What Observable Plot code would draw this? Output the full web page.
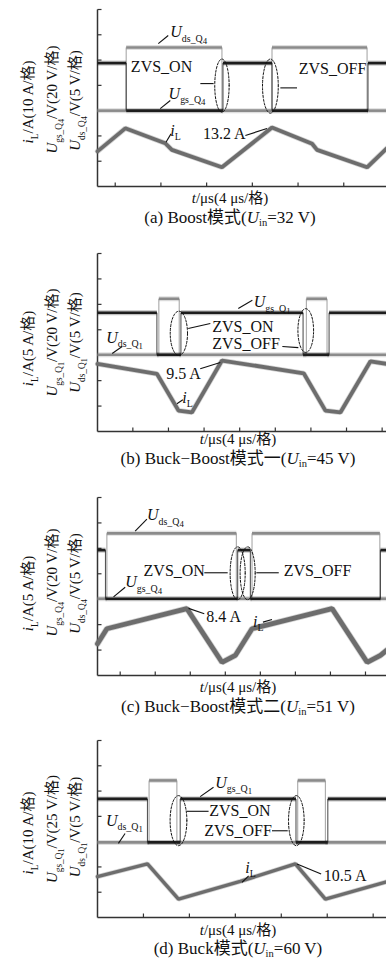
<!DOCTYPE html>
<html><head><meta charset="utf-8">
<script src="https://cdn.jsdelivr.net/npm/d3@7"></script>
<script src="https://cdn.jsdelivr.net/npm/@observablehq/plot@0.6"></script>
<style>
body{margin:0;background:#fff;}
#root{position:relative;width:386px;height:964px;overflow:hidden;font-family:'Liberation Serif','Noto Sans CJK SC',serif;color:#111;}
#root svg{position:absolute;left:0;}
.cap{position:absolute;width:320px;text-align:center;font-size:15px;line-height:15px;height:15px;white-space:nowrap;}
.cap.big{font-size:17px;line-height:17px;height:17px;}
.cap sub{font-size:62%;vertical-align:-0.25em;line-height:0;}
</style>
</head><body><div id="root"></div>
<script>
// ---------- Panel (a) Boost ----------
const aTicks = [4, 8, 12, 16, 20, 24];
const aUdsT = [2.45, 4.96, 13.34, 17.72, 26.04];
const aUdsV = [3.0, 5.5, 3.0, 5.5, 3.0];
const aUgsT = [2.45, 4.96, 13.43, 17.72, 26.12];
const aUgsV = [4.88, 3.0, 4.88, 3.0, 4.88];
const aIlT = [2.45, 4.88, 8.38, 8.96, 13.34, 17.72, 21.23, 21.66, 26.04, 27.74];
const aIlV = [1.39, 2.30, 1.71, 1.45, 0.76, 2.33, 1.69, 1.45, 0.76, 1.50];
const aLabS = ["$U$_{ds_Q}__{4}", "ZVS_ON", "$U$_{gs_Q}__{4}", "ZVS_OFF", "$i$_{L}", "13.2 A"];
const aLabT = [8.82, 5.37, 8.67, 20.06, 8.82, 11.68];
const aLabV = [6.10, 4.72, 3.68, 4.67, 2.21, 2.10];
const aLeaders = [[7.77,5.65,8.64,5.97],[7.94,3.08,8.82,3.40],[11.45,4.07,12.61,4.07],[18.45,3.90,19.91,3.90],[8.44,1.75,8.88,2.08],[15.39,2.02,17.28,2.29]];
const aEllipses = [[13.34,3.99,0.63,1.05],[17.58,3.97,0.69,1.07]];
const aAxis = ["$i$_{L}/A(10 A/格)", "$U$_{gs_Q}__{4}/V(20 V/格)", "$U$_{ds_Q}__{4}/V(5 V/格)"];

// ---------- Panel (b) Buck-Boost 1 ----------
const bTicks = [4, 8, 12, 16, 20, 24, 28, 32];
const bUdsT = [0.03, 6.92, 9.21, 23.49, 25.81];
const bUdsV = [3.02, 5.22, 3.02, 5.22, 3.02];
const bUgsT = [0.03, 6.70, 9.40, 23.12, 26.04];
const bUgsV = [4.67, 3.02, 4.67, 3.02, 4.67];
const bIlT = [0.03, 6.70, 9.13, 10.63, 14.01, 23.19, 25.63, 27.31, 30.69, 32.49];
const bIlV = [2.66, 2.27, 0.82, 0.75, 2.79, 2.29, 0.82, 0.75, 2.76, 2.66];
const bLabS = ["$U$_{gs_Q}__{1}", "ZVS_ON", "ZVS_OFF", "$U$_{ds_Q}__{1}", "9.5 A", "$i$_{L}"];
const bLabT = [17.57, 12.92, 12.92, 1.0, 7.75, 9.55];
const bLabV = [5.09, 4.13, 3.46, 3.70, 2.28, 1.33];
const bLeaders = [[15.84,4.84,17.42,5.16],[10.22,4.05,12.70,4.25],[20.79,3.34,22.59,3.30],[1.68,3.07,2.80,3.34],[11.57,2.47,13.82,2.71],[8.95,1.09,9.62,1.25]];
const bEllipses = [[9.17,3.86,0.97,0.87],[23.42,3.97,0.88,0.86]];
const bAxis = ["$i$_{L}/A(5 A/格)", "$U$_{gs_Q}__{1}/V(20 V/格)", "$U$_{ds_Q}__{1}/V(5 V/格)"];

// ---------- Panel (c) Buck-Boost 2 ----------
const cTicks = [4, 8, 12, 16, 20, 24, 28, 32];
const cUdsT = [1.41, 2.48, 17.26, 19.05, 33.64];
const cUdsV = [3.02, 5.59, 3.02, 5.59, 3.02];
const cUgsT = [1.41, 2.32, 17.41, 18.86, 33.71];
const cUgsV = [4.93, 3.02, 4.93, 3.02, 4.93];
const cIlT = [1.41, 2.48, 11.62, 15.62, 17.14, 19.05, 28.19, 32.19, 33.71, 34.4];
const cIlV = [1.25, 1.84, 2.63, 0.52, 0.79, 1.84, 2.63, 0.52, 0.79, 0.99];
const cLabS = ["$U$_{ds_Q}__{4}", "ZVS_ON", "ZVS_OFF", "$U$_{gs_Q}__{4}", "8.4 A", "$i$_{L}"];
const cLabT = [7.05, 6.67, 22.67, 4.57, 13.83, 19.16];
const cLabV = [6.31, 4.11, 4.11, 3.68, 2.30, 2.12];
const cLeaders = [[5.71,5.68,7.05,6.15],[13.6,4.04,16.27,4.04],[19.54,4.04,22.1,4.04],[3.24,3.09,4.57,3.47],[11.81,2.64,13.6,2.43],[20.30,2.10,21.33,2.20]];
const cEllipses = [[17.41,4.02,0.86,1.04],[18.55,4.02,0.86,1.04]];
const cAxis = ["$i$_{L}/A(5 A/格)", "$U$_{gs_Q}__{4}/V(20 V/格)", "$U$_{ds_Q}__{4}/V(5 V/格)"];

// ---------- Panel (d) Buck ----------
const dTicks = [4, 8, 12, 16, 20, 24];
const dUdsT = [0, 4.49, 6.91, 17.43, 19.84];
const dUdsV = [2.97, 5.42, 2.97, 5.42, 2.97];
const dUgsT = [0, 4.35, 7.20, 17.28, 20.05];
const dUgsV = [4.69, 2.97, 4.69, 2.97, 4.69];
const dIlT = [0, 4.35, 7.05, 12.43, 17.23, 19.84, 25.16];
const dIlV = [1.62, 2.12, 0.73, 1.43, 2.12, 0.73, 1.41];
const dLabS = ["$U$_{gs_Q}__{1}", "ZVS_ON", "ZVS_OFF", "$U$_{ds_Q}__{1}", "$i$_{L}", "10.5 A"];
const dLabT = [10.25, 9.72, 9.29, 0.74, 12.87, 19.70];
const dLabV = [5.34, 4.20, 3.43, 3.83, 1.98, 1.65];
const dLeaders = [[8.94,4.78,10.10,5.15],[7.78,4.20,9.67,4.20],[15.19,3.43,16.56,3.43],[1.82,2.93,2.40,3.32],[12.58,1.39,13.16,1.65],[17.37,2.12,19.47,1.72]];
const dEllipses = [[7.05,3.83,0.73,0.99],[17.31,3.83,0.68,0.99]];
const dAxis = ["$i$_{L}/A(10 A/格)", "$U$_{gs_Q}__{1}/V(25 V/格)", "$U$_{ds_Q}__{1}/V(5 V/格)"];

const DIVS = 7;
const FONT = "'Liberation Serif','Noto Sans CJK SC',serif";
const DARK = "#1d1d1d", GREY = "#8b8b8b", IL = "#6d6d6d", INK = "#111", AXIS = "#333";

function steps(T, V, tEnd) {
  const levels = [], edges = [];
  for (let i = 0; i < T.length; i++) {
    const t2 = i + 1 < T.length ? T[i + 1] : tEnd;
    levels.push({t1: T[i], t2, v: V[i]});
    if (i + 1 < T.length) edges.push({t: T[i + 1], v1: V[i], v2: V[i + 1]});
  }
  return {levels, edges};
}
function ellipsePts(E) {
  const pts = [];
  E.forEach(([cx, cy, rx, ry], k) => {
    for (let i = 0; i <= 72; i++) {
      const a = (i / 72) * 2 * Math.PI;
      pts.push({k, t: cx + rx * Math.cos(a), v: cy + ry * Math.sin(a)});
    }
  });
  return pts;
}
function traceMarks(S, color, w) {
  return [
    Plot.link(S.levels, {x1: "t1", x2: "t2", y1: "v", y2: "v", stroke: color, strokeWidth: w + 2.4, strokeOpacity: 0.28}),
    Plot.link(S.levels, {x1: "t1", x2: "t2", y1: "v", y2: "v", stroke: color, strokeWidth: w}),
    Plot.link(S.edges, {x1: "t", x2: "t", y1: "v1", y2: "v2", stroke: color, strokeWidth: 1.1, strokeOpacity: 0.75})
  ];
}

function panel(p) {
  const mt = 3, mb = 3, ml = 97;
  const fw = 386 - ml;
  const perPxX = (p.domain[1] - p.domain[0]) / fw;
  const perPxY = DIVS / p.height;
  const uds = steps(p.udsT, p.udsV, p.domain[1]);
  const ugs = steps(p.ugsT, p.ugsV, p.domain[1]);
  const il = p.ilT.map((t, i) => ({t, v: p.ilV[i]}));
  const labels = p.labS.map((s, i) => ({s, t: p.labT[i], v: p.labV[i]}));
  const leaders = p.leaders.map(([t1, v1, t2, v2]) => ({t1, v1, t2, v2}));
  const yTicks = d3.range(1, DIVS + 1);
  const d0 = p.domain[0];
  const axisDx = [-69, -45, -22];
  const svg = Plot.plot({
    width: 386, height: p.height + mt + mb,
    marginLeft: ml, marginRight: 0, marginTop: mt, marginBottom: mb,
    x: {domain: p.domain, axis: null},
    y: {domain: [0, DIVS], axis: null},
    style: {fontFamily: FONT, background: "none", overflow: "visible", color: INK},
    marks: [
      Plot.link([0], {x1: d0, x2: d0, y1: 0, y2: DIVS, stroke: AXIS, strokeWidth: 1.5}),
      Plot.link([0], {x1: d0, x2: p.domain[1], y1: 0, y2: 0, stroke: AXIS, strokeWidth: 1.5}),
      Plot.link(yTicks, {x1: d0, x2: d0 + 4 * perPxX, y1: d => d, y2: d => d, stroke: AXIS, strokeWidth: 1.2}),
      Plot.link(p.ticks, {x1: d => d, x2: d => d, y1: 0, y2: 4 * perPxY, stroke: AXIS, strokeWidth: 1.2}),
      ...traceMarks(uds, GREY, 2.6),
      ...traceMarks(ugs, DARK, 2.6),
      Plot.line(il, {x: "t", y: "v", stroke: IL, strokeWidth: p.ilW + 1.5, strokeOpacity: 0.3, strokeLinejoin: "miter"}),
      Plot.line(il, {x: "t", y: "v", stroke: IL, strokeWidth: p.ilW, strokeLinejoin: "miter"}),
      Plot.line(ellipsePts(p.ellipses), {x: "t", y: "v", z: "k", stroke: INK, strokeWidth: 1, strokeDasharray: "2.2,1.6"}),
      Plot.link(leaders, {x1: "t1", y1: "v1", x2: "t2", y2: "v2", stroke: INK, strokeWidth: 1.1}),
      Plot.text(labels, {x: "t", y: "v", text: "s", textAnchor: "start", fontSize: 16, fill: INK}),
      ...p.axis.map((s, i) => Plot.text([s], {frameAnchor: "left", textAnchor: "middle", lineAnchor: "middle", text: d => d, rotate: -90, dx: axisDx[i], dy: p.axisDy[i], fontSize: 15, fill: INK}))
    ]
  });
  svg.style.top = (p.top - mt) + "px";
  return svg;
}

function richify(root) {
  root.querySelectorAll("text").forEach(el => {
    if (el.querySelector("tspan")) return;
    const s = el.textContent;
    if (!/\$|_\{/.test(s)) return;
    const base = parseFloat(getComputedStyle(el).fontSize) || 16;
    const re = /\$([^$]*)\$|__\{([^}]*)\}|_\{([^}]*)\}|([^$_]+|_)/g;
    el.textContent = "";
    let cur = 0, m;
    while ((m = re.exec(s))) {
      let txt, lvl = 0, ital = false;
      if (m[1] !== undefined) { txt = m[1]; ital = true; }
      else if (m[2] !== undefined) { txt = m[2]; lvl = 2; }
      else if (m[3] !== undefined) { txt = m[3]; lvl = 1; }
      else txt = m[4];
      const shift = lvl === 0 ? 0 : lvl === 1 ? base * 0.28 : base * 0.42;
      const ts = document.createElementNS("http://www.w3.org/2000/svg", "tspan");
      ts.textContent = txt;
      if (ital) ts.setAttribute("font-style", "italic");
      if (lvl) ts.setAttribute("font-size", (lvl === 1 ? base * 0.62 : base * 0.55) + "px");
      if (shift !== cur) { ts.setAttribute("dy", String(shift - cur)); cur = shift; }
      el.appendChild(ts);
    }
  });
}

const root = document.getElementById("root");
const panels = [
  {top: 9, height: 177, domain: [2.45, 27.74], ticks: aTicks, udsT: aUdsT, udsV: aUdsV, ugsT: aUgsT, ugsV: aUgsV, ilT: aIlT, ilV: aIlV, ilW: 3.8,
   labS: aLabS, labT: aLabT, labV: aLabV, leaders: aLeaders, ellipses: aEllipses, axis: aAxis, axisDy: [4, 1.5, 2.5],
   capT: 191, cap: 208.5, cx: 230, name: "(a) Boost模式(<i>U</i><sub>in</sub>=32 V)"},
  {top: 253, height: 178, domain: [0.03, 32.49], ticks: bTicks, udsT: bUdsT, udsV: bUdsV, ugsT: bUgsT, ugsV: bUgsV, ilT: bIlT, ilV: bIlV, ilW: 3.8,
   labS: bLabS, labT: bLabT, labV: bLabV, leaders: bLeaders, ellipses: bEllipses, axis: bAxis, axisDy: [6, 0, 0],
   capT: 432, cap: 449.5, cx: 238, name: "(b) Buck−Boost模式一(<i>U</i><sub>in</sub>=45 V)"},
  {top: 497, height: 178, domain: [1.41, 34.4], ticks: cTicks, udsT: cUdsT, udsV: cUdsV, ugsT: cUgsT, ugsV: cUgsV, ilT: cIlT, ilV: cIlV, ilW: 4.8,
   labS: cLabS, labT: cLabT, labV: cLabV, leaders: cLeaders, ellipses: cEllipses, axis: cAxis, axisDy: [7, -4, -3],
   capT: 680, cap: 697.5, cx: 238, name: "(c) Buck−Boost模式二(<i>U</i><sub>in</sub>=51 V)"},
  {top: 740, height: 177, domain: [0, 25.16], ticks: dTicks, udsT: dUdsT, udsV: dUdsV, ugsT: dUgsT, ugsV: dUgsV, ilT: dIlT, ilV: dIlV, ilW: 3.4,
   labS: dLabS, labT: dLabT, labV: dLabV, leaders: dLeaders, ellipses: dEllipses, axis: dAxis, axisDy: [4, 0, -2],
   capT: 922.5, cap: 940, cx: 238, name: "(d) Buck模式(<i>U</i><sub>in</sub>=60 V)"}
];
panels.forEach(p => {
  root.appendChild(panel(p));
  const t = document.createElement("div");
  t.className = "cap"; t.style.top = p.capT + "px"; t.style.left = (p.cx - 160) + "px";
  t.innerHTML = "<i>t</i>/μs(4 μs/格)";
  root.appendChild(t);
  const c = document.createElement("div");
  c.className = "cap big"; c.style.top = p.cap + "px"; c.style.left = (p.cx - 160) + "px";
  c.innerHTML = p.name;
  root.appendChild(c);
});
richify(root);
</script>
</body></html>
